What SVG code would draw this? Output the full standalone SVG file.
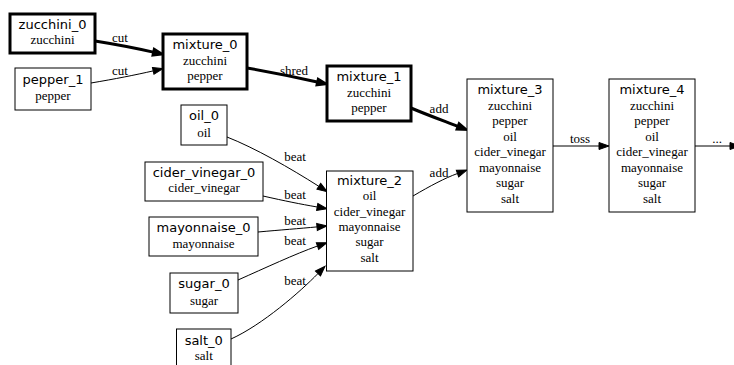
<svg xmlns="http://www.w3.org/2000/svg" width="734" height="365" viewBox="0 0 734 365">
<style>
.bg{fill:#fff}
.n{fill:#fff;stroke:#000;stroke-width:1}
.nb{fill:#fff;stroke:#000;stroke-width:3}
.t{font-family:"DejaVu Sans",sans-serif;font-size:13px;text-anchor:middle;fill:#000}
.s{font-family:"Liberation Serif","Times New Roman",serif;font-size:13px;text-anchor:middle;fill:#000}
.e{fill:none;stroke:#000;stroke-width:1}
.eb{fill:none;stroke:#000;stroke-width:3}
</style>
<defs>
<marker id="a" markerUnits="userSpaceOnUse" markerWidth="12" markerHeight="10" refX="0" refY="3.5" orient="auto" overflow="visible">
<polygon points="0,0 10,3.5 0,7" fill="#000" stroke="#000" stroke-width="1"/>
</marker>
<marker id="ab" markerUnits="userSpaceOnUse" markerWidth="12" markerHeight="10" refX="0" refY="3.5" orient="auto" overflow="visible">
<polygon points="0,0 10,3.5 0,7" fill="#000" stroke="#000" stroke-width="2"/>
</marker>
</defs>
<rect class="bg" x="0" y="0" width="734" height="365"/>
<g id="connectors">
<path class="eb" d="M95,41 C120,45 135,48 153.2,52.1" marker-end="url(#ab)"/>
<path class="e" d="M91,83 C115,79 135,75 153.2,70.9" marker-end="url(#a)"/>
<path class="eb" d="M247,68 C270,72 295,77 317.2,82" marker-end="url(#ab)"/>
<path class="eb" d="M411,108 C425,114 440,119.5 457.7,126.3" marker-end="url(#ab)"/>
<path class="e" d="M413,196 C430,186 445,178 457.5,173.5" marker-end="url(#a)"/>
<path class="e" d="M553,146 L599,146" marker-end="url(#a)"/>
<path class="e" d="M695,146 L730,146" marker-end="url(#a)"/>
<path class="e" d="M227,137 C255,148 290,168 318.8,186.3" marker-end="url(#a)"/>
<path class="e" d="M263,196 C285,201 300,204 317.2,207" marker-end="url(#a)"/>
<path class="e" d="M258,232 C280,230 300,228.5 317,226.9" marker-end="url(#a)"/>
<path class="e" d="M238,280 C265,268 295,254 317.5,246" marker-end="url(#a)"/>
<path class="e" d="M231,339 C262,325 300,292 318,273.5" marker-end="url(#a)"/>
<text class="s" x="120" y="42">cut</text>
<text class="s" x="120" y="75">cut</text>
<text class="s" x="294" y="75">shred</text>
<text class="s" x="439" y="113">add</text>
<text class="s" x="439" y="177">add</text>
<text class="s" x="580" y="143">toss</text>
<text class="s" x="717" y="143">...</text>
<text class="s" x="295" y="161">beat</text>
<text class="s" x="295" y="199">beat</text>
<text class="s" x="295" y="225">beat</text>
<text class="s" x="295" y="245">beat</text>
<text class="s" x="295" y="285">beat</text>
</g>
<g id="zucchini_0">
<rect class="nb" x="10" y="14" width="85" height="39"/>
<text class="t" x="52.5" y="29">zucchini_0</text>
<text class="s" x="52.5" y="44">zucchini</text>
</g>
<g id="pepper_1">
<rect class="n" x="15" y="68" width="76" height="42"/>
<text class="t" x="53" y="84">pepper_1</text>
<text class="s" x="53" y="100">pepper</text>
</g>
<g id="mixture_0">
<rect class="nb" x="163" y="34" width="84" height="55"/>
<text class="t" x="205" y="49">mixture_0</text>
<text class="s" x="205" y="65">zucchini</text>
<text class="s" x="205" y="80">pepper</text>
</g>
<g id="mixture_1">
<rect class="nb" x="327" y="66" width="84" height="55"/>
<text class="t" x="369" y="81">mixture_1</text>
<text class="s" x="369" y="97">zucchini</text>
<text class="s" x="369" y="112">pepper</text>
</g>
<g id="mixture_3">
<rect class="n" x="467" y="79" width="86" height="133"/>
<text class="t" x="510" y="94">mixture_3</text>
<text class="s" x="510" y="109.5">zucchini</text>
<text class="s" x="510" y="125">pepper</text>
<text class="s" x="510" y="140.5">oil</text>
<text class="s" x="510" y="156">cider_vinegar</text>
<text class="s" x="510" y="171.5">mayonnaise</text>
<text class="s" x="510" y="187">sugar</text>
<text class="s" x="510" y="202.5">salt</text>
</g>
<g id="mixture_4">
<rect class="n" x="609" y="79" width="86" height="133"/>
<text class="t" x="652" y="94">mixture_4</text>
<text class="s" x="652" y="109.5">zucchini</text>
<text class="s" x="652" y="125">pepper</text>
<text class="s" x="652" y="140.5">oil</text>
<text class="s" x="652" y="156">cider_vinegar</text>
<text class="s" x="652" y="171.5">mayonnaise</text>
<text class="s" x="652" y="187">sugar</text>
<text class="s" x="652" y="202.5">salt</text>
</g>
<g id="mixture_2">
<rect class="n" x="326.5" y="171" width="86.5" height="100"/>
<text class="t" x="369.5" y="185">mixture_2</text>
<text class="s" x="369.5" y="200">oil</text>
<text class="s" x="369.5" y="216">cider_vinegar</text>
<text class="s" x="369.5" y="231">mayonnaise</text>
<text class="s" x="369.5" y="246">sugar</text>
<text class="s" x="369.5" y="262">salt</text>
</g>
<g id="oil_0">
<rect class="n" x="181" y="105" width="46" height="40"/>
<text class="t" x="204" y="120">oil_0</text>
<text class="s" x="204" y="137">oil</text>
</g>
<g id="cider_vinegar_0">
<rect class="n" x="145" y="162" width="118" height="39"/>
<text class="t" x="204" y="177">cider_vinegar_0</text>
<text class="s" x="204" y="192">cider_vinegar</text>
</g>
<g id="mayonnaise_0">
<rect class="n" x="149" y="217" width="109" height="39"/>
<text class="t" x="203.5" y="232">mayonnaise_0</text>
<text class="s" x="203.5" y="248">mayonnaise</text>
</g>
<g id="sugar_0">
<rect class="n" x="170" y="273" width="68" height="40"/>
<text class="t" x="204" y="288">sugar_0</text>
<text class="s" x="204" y="305">sugar</text>
</g>
<g id="salt_0">
<rect class="n" x="176.5" y="329" width="54.5" height="40"/>
<text class="t" x="203.75" y="345">salt_0</text>
<text class="s" x="203.75" y="360">salt</text>
</g>
</svg>
